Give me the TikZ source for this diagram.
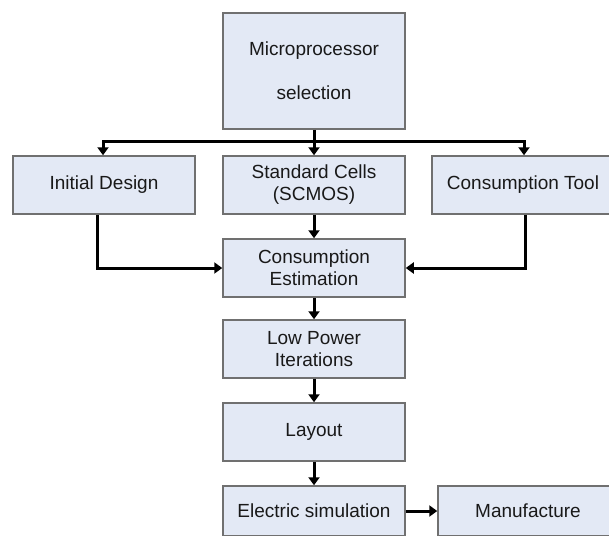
\documentclass[tikz,border=0pt]{standalone}
\usepackage{fontspec}
\setmainfont{Liberation Sans}
\usetikzlibrary{arrows.meta}
\definecolor{boxfill}{RGB}{227,233,245}
\definecolor{boxline}{RGB}{112,112,112}
\definecolor{band}{RGB}{228,227,253}
\tikzset{
  stage/.style={draw=boxline,fill=boxfill,line width=1.5pt,minimum width=182pt,minimum height=58pt,inner sep=0pt,align=center,text=black!90,font=\fontsize{19}{22}\selectfont},
  flow/.style={line width=3pt,-{Triangle[length=8pt,width=11pt]}}
}
\begin{document}
\begin{tikzpicture}[x=1pt,y=-1pt]
\path[use as bounding box] (0,0) rectangle (609,536);
\clip (0,0) rectangle (609,535.2);
\node[stage,minimum height=116pt,path picture={\fill[band] (243,39) rectangle (393,62); \fill[band] (249,62) rectangle (384,84);}] (mp) at (314,71) {Microprocessor\\[22pt]selection};
\node[stage] (init) at (104,185) {Initial Design};
\node[stage] (cells) at (314,185) {Standard Cells\\(SCMOS)};
\node[stage] (tool) at (523,185) {Consumption Tool};
\node[stage] (est) at (314,268) {Consumption\\Estimation};
\node[stage] (lowp) at (314,349) {Low Power\\Iterations};
\node[stage] (lay) at (314,432) {Layout};
\node[stage,minimum height=50pt] (elec) at (314,511) {Electric simulation};
\node[stage,minimum width=180pt,minimum height=50pt] (manuf) at (528,511) {Manufacture};
\coordinate (split) at (314,141);
\draw[line width=3pt] (mp.south) -- (split);
\draw[flow] (split) -| ([xshift=-1pt]init.north);
\draw[flow] (split) -- (cells.north);
\draw[flow] (split) -| ([xshift=1pt]tool.north);
\draw[flow] ([xshift=-7pt]init.south) |- (est.west);
\draw[flow] ([xshift=2pt]tool.south) |- (est.east);
\draw[flow] (cells) -- (est);
\draw[flow] (est) -- (lowp);
\draw[flow] (lowp) -- (lay);
\draw[flow] (lay) -- (elec);
\draw[flow] (elec) -- (manuf);
\end{tikzpicture}
\end{document}
